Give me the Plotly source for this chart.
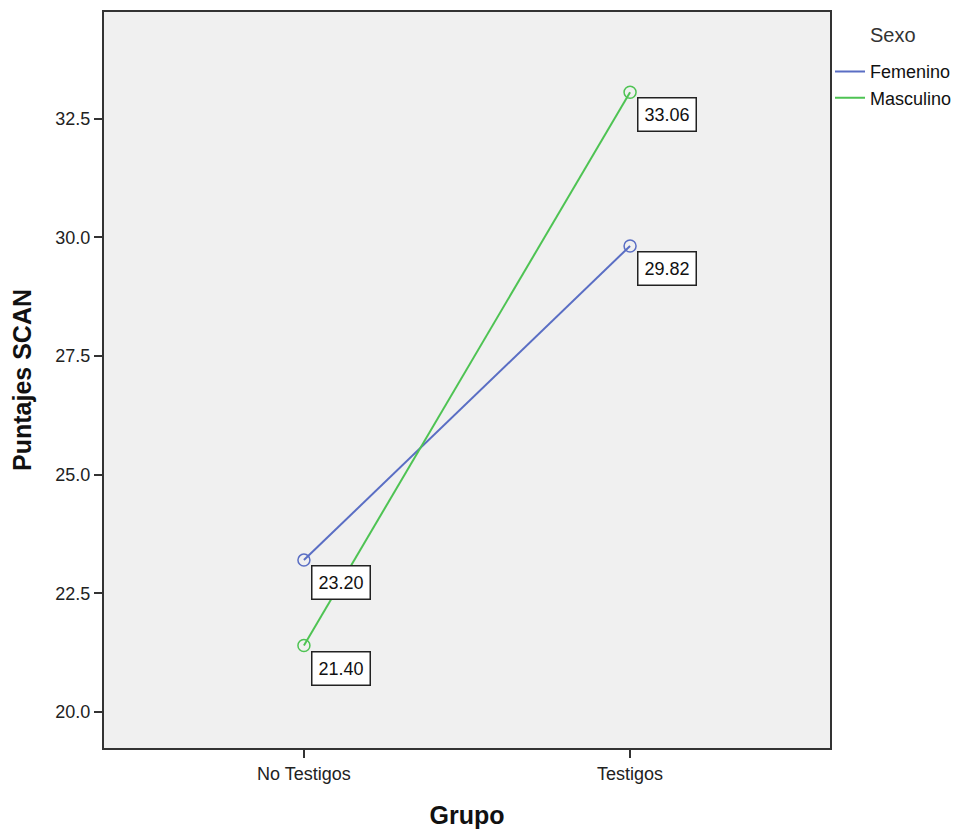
import plotly.graph_objects as go

grupos = ["No Testigos", "Testigos"]
femenino = [23.20, 29.82]
masculino = [21.40, 33.06]
series_names = ["Femenino", "Masculino"]
colors = ["#5A6EC4", "#4EC353"]
y_ticks = [20.0, 22.5, 25.0, 27.5, 30.0, 32.5]
legend_title = "Sexo"

FONT = "Liberation Sans, Arial"

fig = go.Figure()
for i, (name, vals, col) in enumerate(zip(series_names, [femenino, masculino], colors)):
    fig.add_trace(go.Scatter(
        x=grupos, y=vals, name=name, mode="lines+markers", showlegend=False,
        line=dict(color=col, width=2),
        marker=dict(symbol="circle-open", size=12, color=col, line=dict(width=1.5)),
    ))
    # legend entry (line only)
    fig.add_trace(go.Scatter(
        x=[None], y=[None], name=name, mode="lines", legendgroup=f"g{i}",
        line=dict(color=col, width=2),
    ))
    for g, v in zip(grupos, vals):
        fig.add_annotation(
            x=g, y=v, text=f"{v:.2f}", showarrow=False,
            xanchor="left", yanchor="top", xshift=7, yshift=-5,
            bgcolor="white", bordercolor="#222", borderwidth=1.5, borderpad=6,
            font=dict(family=FONT, size=18, color="#111"),
        )

fig.add_annotation(
    text=legend_title, xref="paper", yref="paper", x=1.0, y=1.0,
    xanchor="left", yanchor="top", xshift=38, yshift=-10, showarrow=False,
    font=dict(family=FONT, size=20, color="#333"),
)

fig.update_layout(
    width=955, height=823,
    margin=dict(l=96, r=133, t=2, b=83),
    paper_bgcolor="white", plot_bgcolor="#F0F0F0",
    font=dict(family=FONT, size=18, color="#222"),
    showlegend=True,
    legend=dict(
        x=1.0, xanchor="left", y=0.944, yanchor="top",
        bgcolor="rgba(0,0,0,0)", font=dict(size=18, color="#111"),
        itemwidth=30, tracegroupgap=0,
    ),
    xaxis=dict(
        type="category", range=[-0.613, 1.613],
        showgrid=False, zeroline=False,
        showline=True, linecolor="#333", linewidth=2, mirror=True,
        ticks="outside", ticklen=8, tickwidth=2, tickcolor="#333",
        tickfont=dict(size=18, color="#222"),
        title=dict(text="<b>Grupo</b>", font=dict(size=25, color="#111"), standoff=24),
    ),
    yaxis=dict(
        range=[19.24, 34.75], tickvals=y_ticks,
        ticktext=[f"{t:.1f}" for t in y_ticks],
        showgrid=False, zeroline=False,
        showline=True, linecolor="#333", linewidth=2, mirror=True,
        ticks="outside", ticklen=8, tickwidth=2, tickcolor="#333",
        tickfont=dict(size=18, color="#222"),
        title=dict(text="<b>Puntajes SCAN</b>", font=dict(size=25, color="#111"), standoff=18),
    ),
)

fig.write_html("out.html")
